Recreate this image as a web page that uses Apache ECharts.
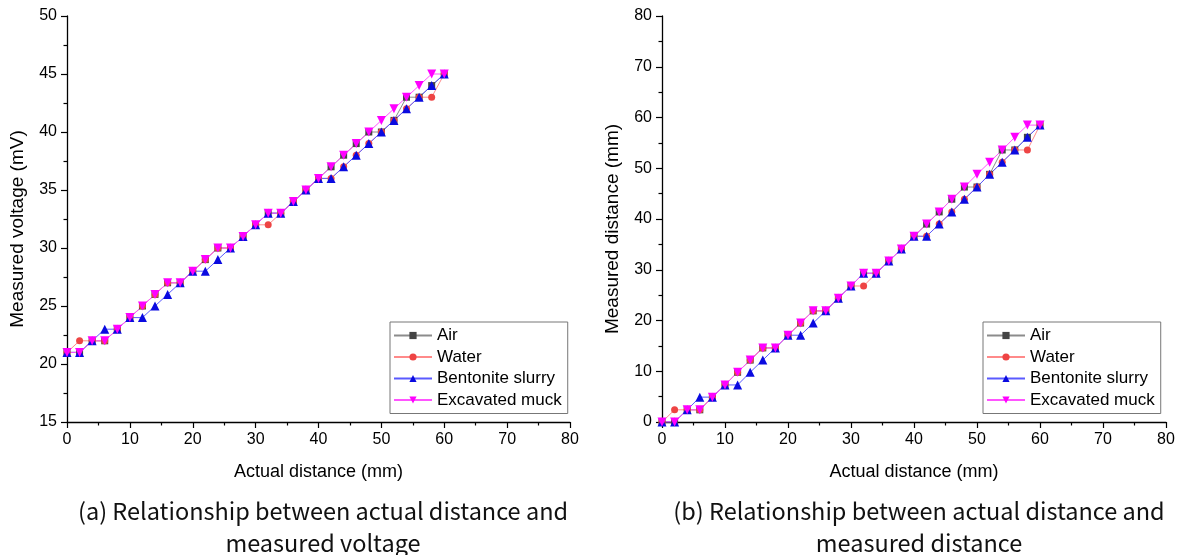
<!DOCTYPE html>
<html>
<head>
<meta charset="utf-8">
<script src="https://cdn.jsdelivr.net/npm/echarts@6/dist/echarts.min.js"></script>
<style>
  html, body { margin: 0; padding: 0; background: #fff; }
  #chart { width: 1187px; height: 555px; }
</style>
</head>
<body>
<div id="chart"></div>
<script>
// Actual distance (mm)
const actualDistance = [0,2,4,6,8,10,12,14,16,18,20,22,24,26,28,30,32,34,36,38,40,42,44,46,48,50,52,54,56,58,60];

// Measured voltage (mV) per medium
const voltAir       = [21,21,22,22,23,24,25,26,27,27,28,29,30,30,31,32,33,33,34,35,36,37,38,39,40,40,41,43,43,44,45];
const voltWater     = [21,22,22,22,23,24,25,26,27,27,28,29,30,30,31,32,32,33,34,35,36,36,37,38,39,40,41,42,43,43,45];
const voltBentonite = [21,21,22,23,23,24,24,25,26,27,28,28,29,30,31,32,33,33,34,35,36,36,37,38,39,40,41,42,43,44,45];
const voltMuck      = [21,21,22,22,23,24,25,26,27,27,28,29,30,30,31,32,33,33,34,35,36,37,38,39,40,41,42,43,44,45,45];

// Measured distance (mm) per medium
const distAir       = [0,0,2.4,2.4,4.9,7.3,9.8,12.2,14.6,14.6,17.1,19.5,21.9,21.9,24.4,26.8,29.3,29.3,31.7,34.1,36.6,39.0,41.4,43.9,46.3,46.3,48.8,53.6,53.6,56.1,58.5];
const distWater     = [0,2.4,2.4,2.4,4.9,7.3,9.8,12.2,14.6,14.6,17.1,19.5,21.9,21.9,24.4,26.8,26.8,29.3,31.7,34.1,36.6,36.6,39.0,41.4,43.9,46.3,48.8,51.2,53.6,53.6,58.5];
const distBentonite = [0,0,2.4,4.9,4.9,7.3,7.3,9.8,12.2,14.6,17.1,17.1,19.5,21.9,24.4,26.8,29.3,29.3,31.7,34.1,36.6,36.6,39.0,41.4,43.9,46.3,48.8,51.2,53.6,56.1,58.5];
const distMuck      = [0,0,2.4,2.4,4.9,7.3,9.8,12.2,14.6,14.6,17.1,19.5,21.9,21.9,24.4,26.8,29.3,29.3,31.7,34.1,36.6,39.0,41.4,43.9,46.3,48.8,51.2,53.6,56.1,58.5,58.5];

const mediumNames = ['Air', 'Water', 'Bentonite slurry', 'Excavated muck'];
const captions = [
  '(a) Relationship between actual distance and\nmeasured voltage',
  '(b) Relationship between actual distance and\nmeasured distance'
];

const styles = {
  'Air':              { symbol: 'rect',     size: 7, rotate: 0,   line: '#8c8c8c', fill: '#444444' },
  'Water':            { symbol: 'circle',   size: 7, rotate: 0,   line: '#ff8a8a', fill: '#ee4444' },
  'Bentonite slurry': { symbol: 'triangle', size: 9, rotate: 0,   line: '#5a5aff', fill: '#0a0ae0' },
  'Excavated muck':   { symbol: 'triangle', size: 9, rotate: 180, line: '#ff55ff', fill: '#ff00ff' }
};

const pairs = (xs, ys) => xs.map((x, i) => [x, ys[i]]);

function makeSeries(name, ys, idx) {
  const s = styles[name];
  return {
    name: name,
    type: 'line',
    xAxisIndex: idx,
    yAxisIndex: idx,
    data: pairs(actualDistance, ys),
    symbol: s.symbol,
    symbolSize: s.size,
    symbolRotate: s.rotate,
    showAllSymbol: true,
    animation: false,
    lineStyle: { color: s.line, width: 1 },
    itemStyle: { color: s.fill, borderWidth: 0 },
    emphasis: { disabled: true }
  };
}

const axisFont = { fontFamily: 'Liberation Sans', color: '#000' };

function xAxisDef(idx) {
  return {
    gridIndex: idx, type: 'value', min: 0, max: 80, interval: 10,
    name: 'Actual distance (mm)', nameLocation: 'middle', nameGap: 41,
    nameTextStyle: Object.assign({ fontSize: 18 }, axisFont),
    axisLine: { show: true, onZero: false, lineStyle: { color: '#000', width: 1.3 } },
    axisTick: { show: true, inside: false, length: 6, lineStyle: { color: '#000', width: 1.2 } },
    minorTick: { show: true, splitNumber: 2, length: 3.5, lineStyle: { color: '#000', width: 1.2 } },
    axisLabel: Object.assign({ fontSize: 16, margin: 10 }, axisFont),
    splitLine: { show: false }
  };
}

function yAxisDef(idx, name, min, max, interval) {
  return {
    gridIndex: idx, type: 'value', min: min, max: max, interval: interval,
    name: name, nameLocation: 'middle', nameGap: 40,
    nameTextStyle: Object.assign({ fontSize: 19, padding: [0, 20, 0, 0] }, axisFont),
    axisLine: { show: true, onZero: false, lineStyle: { color: '#000', width: 1.3 } },
    axisTick: { show: true, inside: false, length: 6, lineStyle: { color: '#000', width: 1.2 } },
    minorTick: { show: true, splitNumber: 2, length: 3.5, lineStyle: { color: '#000', width: 1.2 } },
    axisLabel: Object.assign({ fontSize: 16, margin: 10 }, axisFont),
    splitLine: { show: false }
  };
}

function legendDef(left) {
  return {
    left: left, top: 322,
    orient: 'vertical',
    data: mediumNames,
    itemWidth: 38, itemHeight: 9, itemGap: 2.5,
    padding: [4, 6, 4, 3],
    borderColor: '#777', borderWidth: 1, borderRadius: 0,
    backgroundColor: '#fff',
    selectedMode: false,
    textStyle: { fontFamily: 'Liberation Sans', fontSize: 17, color: '#000', lineHeight: 19 }
  };
}

function captionDef(centerX, text) {
  return {
    text: text,
    left: centerX, top: 490,
    textAlign: 'center',
    textStyle: { fontFamily: 'Noto Sans CJK KR', fontWeight: 'normal', fontSize: 23.5, lineHeight: 32, color: '#111' }
  };
}

const chart = echarts.init(document.getElementById('chart'), null, { renderer: 'canvas' });

chart.setOption({
  backgroundColor: '#fff',
  animation: false,
  title: [captionDef(318, captions[0]), captionDef(914, captions[1])],
  legend: [legendDef(390), legendDef(983)],
  grid: [
    { left: 67, top: 16, width: 503, height: 406 },
    { left: 662, top: 16, width: 504, height: 406 }
  ],
  xAxis: [xAxisDef(0), xAxisDef(1)],
  yAxis: [
    yAxisDef(0, 'Measured voltage (mV)', 15, 50, 5),
    yAxisDef(1, 'Measured distance (mm)', 0, 80, 10)
  ],
  series: [
    makeSeries('Air', voltAir, 0),
    makeSeries('Water', voltWater, 0),
    makeSeries('Bentonite slurry', voltBentonite, 0),
    makeSeries('Excavated muck', voltMuck, 0),
    makeSeries('Air', distAir, 1),
    makeSeries('Water', distWater, 1),
    makeSeries('Bentonite slurry', distBentonite, 1),
    makeSeries('Excavated muck', distMuck, 1)
  ]
});
</script>
</body>
</html>
